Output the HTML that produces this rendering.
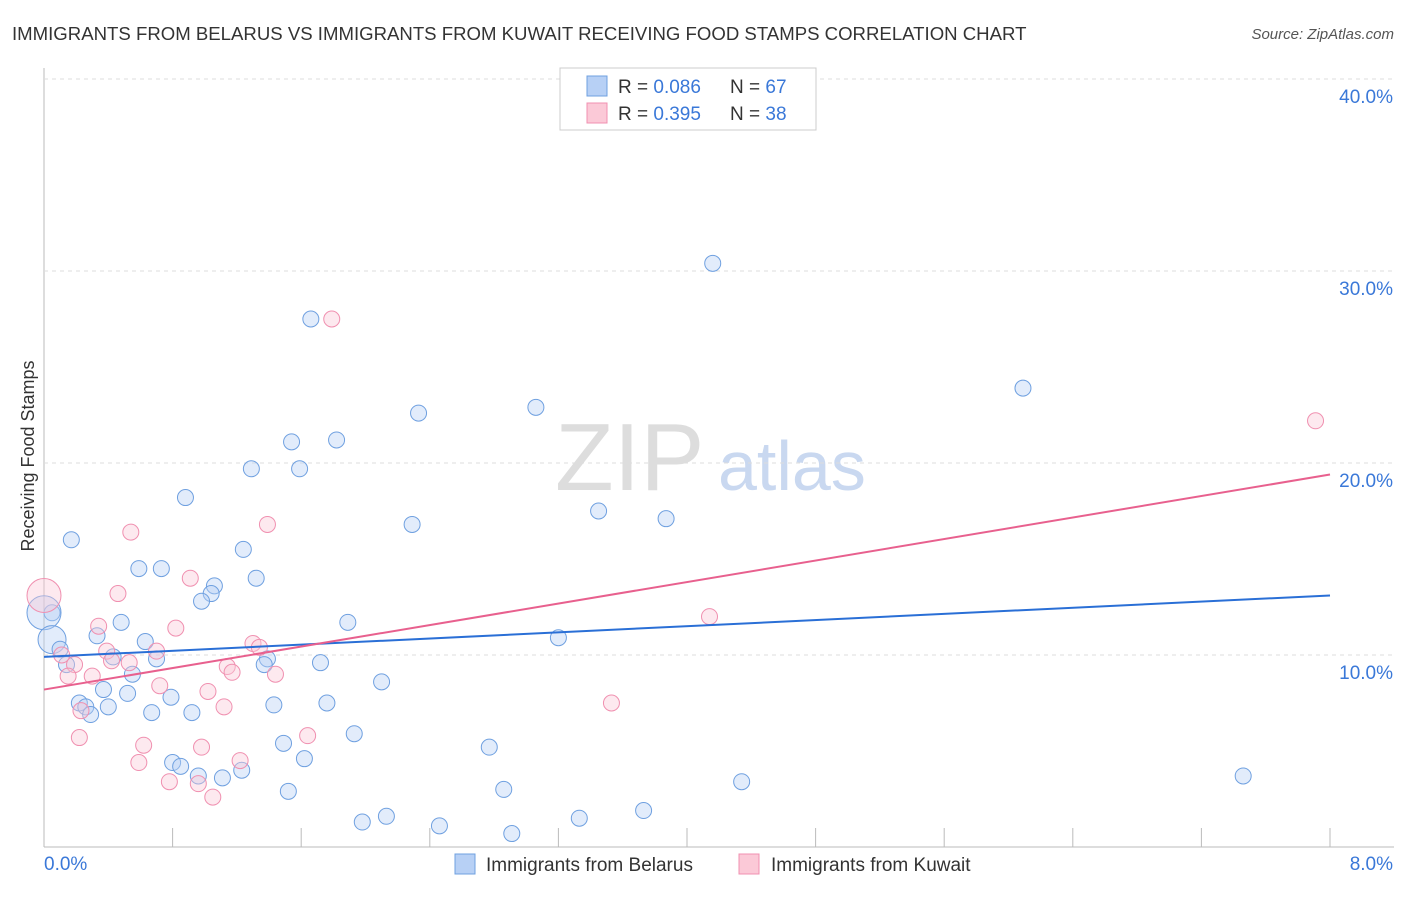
<!DOCTYPE html>
<html><head><meta charset="utf-8">
<style>
body{margin:0;background:#fff;font-family:"Liberation Sans",sans-serif;}
svg text{font-family:"Liberation Sans",sans-serif;}
</style></head>
<body>
<svg id="chart" width="1406" height="892" xmlns="http://www.w3.org/2000/svg">
<text x="12" y="40" font-size="18.6" fill="#333">IMMIGRANTS FROM BELARUS VS IMMIGRANTS FROM KUWAIT RECEIVING FOOD STAMPS CORRELATION CHART</text>
<text x="1394" y="39" font-size="15" fill="#555" font-style="italic" text-anchor="end">Source: ZipAtlas.com</text>
<text x="34" y="456" font-size="18" fill="#333" transform="rotate(-90 34 456)" text-anchor="middle">Receiving Food Stamps</text>
<text x="555" y="490" font-size="96" fill="#ddd" font-family="Liberation Serif">ZIP</text>
<text x="718" y="490" font-size="70" fill="#c9d8f0">atlas</text>
<g id="grid"></g><g id="marks"></g>
<g>
<rect x="560" y="68" width="256" height="62" fill="#fff" stroke="#ccc"/>
<rect x="587" y="76" width="20" height="20" fill="#b7d0f5" stroke="#6fa0e0"/>
<rect x="587" y="103" width="20" height="20" fill="#fbc9d7" stroke="#f090b0"/>
<text x="618" y="93" font-size="19" fill="#333">R = <tspan fill="#3a78d8">0.086</tspan></text>
<text x="730" y="93" font-size="19" fill="#333">N = <tspan fill="#3a78d8">67</tspan></text>
<text x="618" y="120" font-size="19" fill="#333">R = <tspan fill="#3a78d8">0.395</tspan></text>
<text x="730" y="120" font-size="19" fill="#333">N = <tspan fill="#3a78d8">38</tspan></text>
</g>
<g>
<rect x="455" y="854" width="20" height="20" fill="#b7d0f5" stroke="#6fa0e0"/>
<text x="486" y="871" font-size="19" fill="#333">Immigrants from Belarus</text>
<rect x="739" y="854" width="20" height="20" fill="#fbc9d7" stroke="#f090b0"/>
<text x="771" y="871" font-size="19" fill="#333">Immigrants from Kuwait</text>
</g>
</svg>
<script>
const yTicks=[10,20,30,40];
const xTicks=[0,0.8,1.6,2.4,3.2,4.0,4.8,5.6,6.4,7.2,8.0];
const blueX=[4.16,1.66,6.09,3.06,2.33,1.82,1.54,1.29,1.59,0.88,2.29,3.45,3.87,0.17,1.24,0.59,0.73,1.32,1.06,1.04,0.98,0.05,0.0,0.48,1.89,0.33,3.2,0.63,0.05,0.1,0.43,0.7,1.39,1.37,1.72,0.14,0.55,2.1,0.37,0.52,0.79,0.22,0.4,0.26,1.43,1.76,0.67,0.92,0.29,1.49,1.93,2.77,1.62,0.8,0.85,1.23,0.96,1.11,4.34,7.46,1.52,2.86,3.73,2.13,1.98,3.33,2.46,2.91];
const blueY=[30.4,27.5,23.9,22.9,22.6,21.2,21.1,19.7,19.7,18.2,16.8,17.5,17.1,16.0,15.5,14.5,14.5,14.0,13.6,13.2,12.8,12.2,12.2,11.7,11.7,11.0,10.9,10.7,10.8,10.3,9.9,9.8,9.8,9.5,9.6,9.5,9.0,8.6,8.2,8.0,7.8,7.5,7.3,7.3,7.4,7.5,7.0,7.0,6.9,5.4,5.9,5.2,4.6,4.4,4.2,4.0,3.7,3.6,3.4,3.7,2.9,3.0,1.9,1.6,1.3,1.5,1.1,0.7];
const blueR=[8,8,8,8,8,8,8,8,8,8,8,8,8,8,8,8,8,8,8,8,8,8,17,8,8,8,8,8,14,8,8,8,8,8,8,8,8,8,8,8,8,8,8,8,8,8,8,8,8,8,8,8,8,8,8,8,8,8,8,8,8,8,8,8,8,8,8,8];
const pinkX=[1.79,7.91,0.54,1.39,0.91,0.46,0.0,0.82,0.34,4.14,1.3,1.34,0.39,0.7,0.11,0.42,0.53,0.19,1.14,1.17,1.44,0.15,0.3,0.72,1.02,3.53,1.12,0.23,0.22,1.64,0.62,0.98,1.22,0.59,0.78,0.96,1.05];
const pinkY=[27.5,22.2,16.4,16.8,14.0,13.2,13.1,11.4,11.5,12.0,10.6,10.4,10.2,10.2,10.0,9.7,9.6,9.5,9.4,9.1,9.0,8.9,8.9,8.4,8.1,7.5,7.3,7.1,5.7,5.8,5.3,5.2,4.5,4.4,3.4,3.3,2.6];
const pinkR=[8,8,8,8,8,8,17,8,8,8,8,8,8,8,8,8,8,8,8,8,8,8,8,8,8,8,8,8,8,8,8,8,8,8,8,8,8];
const blueLine=[9.9,13.1];
const pinkLine=[8.2,19.4];
const X=v=>44+v*160.75, Y=v=>847-v*19.2;
const NS="http://www.w3.org/2000/svg";
const grid=document.getElementById('grid'),marks=document.getElementById('marks');
function mk(tag,attrs,parent){const e=document.createElementNS(NS,tag);for(const k in attrs)e.setAttribute(k,attrs[k]);parent.appendChild(e);return e;}
let l=mk('line',{x1:44,x2:44,y1:68,y2:847,stroke:'#bbb'},grid);


l=mk('line',{x1:44,x2:1394,y1:847,y2:847,stroke:'#bbb'},grid);


yTicks.forEach(t=>{
 const g=mk('line',{x1:44,x2:1394,y1:Y(t),y2:Y(t),stroke:'#ddd','stroke-dasharray':'4,4'},grid);
 
 
 const tx=mk('text',{x:1393,y:Y(t)+24,'font-size':19,fill:'#3a78d8','text-anchor':'end'},grid);
 tx.textContent=t.toFixed(1)+'%';
 
 
});
xTicks.forEach(t=>{
 const g=mk('line',{x1:X(t),x2:X(t),y1:828,y2:847,stroke:'#bbb'},grid);
 
 
});
[[0,'0.0%','start',44],[8,'8.0%','end',1393]].forEach(a=>{
 const tx=mk('text',{x:a[3],y:870,'font-size':19,fill:'#3a78d8','text-anchor':a[2]},grid);
 tx.textContent=a[1];
 
 
});
function pts(xs,ys,rs,fill,stroke,name){xs.forEach((x,i)=>{
 const c=mk('circle',{cx:X(x),cy:Y(ys[i]),r:rs[i],fill:fill,'fill-opacity':0.4,stroke:stroke,'stroke-width':1},marks);
 
 
});}
pts(blueX,blueY,blueR,'#b7d0f5','#6fa0e0','point-belarus');
pts(pinkX,pinkY,pinkR,'#fbc9d7','#f090b0','point-kuwait');
l=mk('line',{x1:X(0),x2:X(8),y1:Y(blueLine[0]),y2:Y(blueLine[1]),stroke:'#2a6fd6','stroke-width':2},marks);


l=mk('line',{x1:X(0),x2:X(8),y1:Y(pinkLine[0]),y2:Y(pinkLine[1]),stroke:'#e8608e','stroke-width':2},marks);


</script>
</body></html>
